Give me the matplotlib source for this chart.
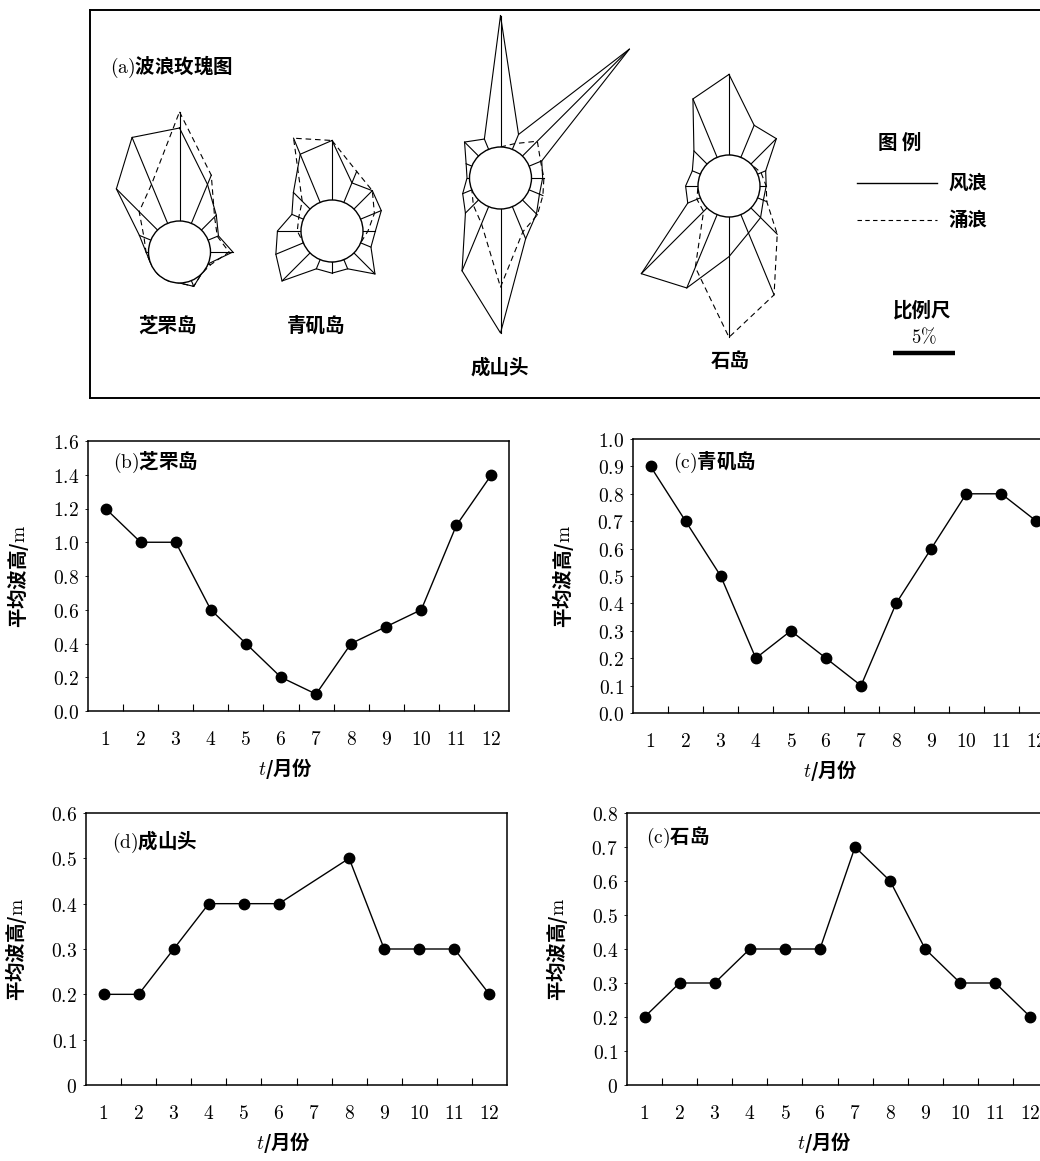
import numpy as np
import matplotlib.pyplot as plt
from matplotlib.patches import Circle

plt.rcParams['mathtext.fontset'] = 'cm'
plt.rcParams['font.family'] = ['Noto Sans CJK SC', 'DejaVu Sans']

W, H = 1040, 1161

# ---- monthly mean wave height (m) ----
months = [1, 2, 3, 4, 5, 6, 7, 8, 9, 10, 11, 12]
month_labels = [str(m) for m in months]
zhifu_h = [1.2, 1.0, 1.0, 0.6, 0.4, 0.2, 0.1, 0.4, 0.5, 0.6, 1.1, 1.4]
qingji_h = [0.9, 0.7, 0.5, 0.2, 0.3, 0.2, 0.1, 0.4, 0.6, 0.8, 0.8, 0.7]
chengshan_months = [1, 2, 3, 4, 5, 6, 8, 9, 10, 11, 12]   # no record for July
chengshan_h = [0.2, 0.2, 0.3, 0.4, 0.4, 0.4, 0.5, 0.3, 0.3, 0.3, 0.2]
shidao_h = [0.2, 0.3, 0.3, 0.4, 0.4, 0.4, 0.7, 0.6, 0.4, 0.3, 0.3, 0.2]

yticks_b = [0.0, 0.2, 0.4, 0.6, 0.8, 1.0, 1.2, 1.4, 1.6]
ylabels_b = ['0.0', '0.2', '0.4', '0.6', '0.8', '1.0', '1.2', '1.4', '1.6']
yticks_c = [0.0, 0.1, 0.2, 0.3, 0.4, 0.5, 0.6, 0.7, 0.8, 0.9, 1.0]
ylabels_c = ['0.0', '0.1', '0.2', '0.3', '0.4', '0.5', '0.6', '0.7', '0.8', '0.9', '1.0']
yticks_d = [0.0, 0.1, 0.2, 0.3, 0.4, 0.5, 0.6]
ylabels_d = ['0', '0.1', '0.2', '0.3', '0.4', '0.5', '0.6']
yticks_e = [0.0, 0.1, 0.2, 0.3, 0.4, 0.5, 0.6, 0.7, 0.8]
ylabels_e = ['0', '0.1', '0.2', '0.3', '0.4', '0.5', '0.6', '0.7', '0.8']

# ---- wave rose frequencies (%), 16 directions clockwise from N ----
directions = ['N', 'NNE', 'NE', 'ENE', 'E', 'ESE', 'SE', 'SSE',
              'S', 'SSW', 'SW', 'WSW', 'W', 'WNW', 'NW', 'NNW']
zhifu_wind = [7.5, 3.4, 1.7, 0.9, 1.8, 0.0, 0.0, 0.5, 0.0, 0.0, 0.0, 0.0, 0.2, 1.0, 4.7, 7.5]
zhifu_swell = [8.8, 4.2, 1.5, 0.8, 1.5, 0.2, 0.0, 0.5, 0.0, 0.0, 0.0, 0.0, 0.2, 0.6, 2.1, 3.4]
qingji_wind = [4.8, 1.7, 2.1, 1.8, 1.0, 0.9, 2.4, 0.8, 0.9, 0.8, 3.2, 2.4, 1.9, 1.0, 1.9, 4.2]
qingji_swell = [4.8, 2.7, 2.1, 1.2, 0.4, 0.0, 0.0, 0.0, 0.0, 0.0, 0.0, 0.0, 0.3, 0.4, 0.9, 5.6]
chengshan_wind = [10.6, 1.3, 12.2, 1.1, 0.9, 0.9, 1.6, 2.8, 10.0, 5.6, 1.5, 0.8, 0.2, 0.5, 1.6, 0.9]
chengshan_swell = [0.0, 0.5, 1.7, 1.0, 1.0, 1.2, 1.7, 2.2, 6.3, 1.5, 0.6, 0.0, 0.0, 0.0, 0.0, 0.0]
shidao_wind = [6.5, 2.8, 2.9, 0.7, 0.5, 0.5, 1.1, 1.6, 3.2, 6.4, 7.5, 1.1, 1.0, 0.7, 1.5, 5.1]
shidao_swell = [0.0, 0.0, 0.0, 0.3, 0.5, 0.8, 3.0, 7.0, 9.7, 4.6, 0.4, 0.3, 0.0, 0.0, 0.0, 0.0]

roses = [
    ('芝罘岛', zhifu_wind, zhifu_swell, (179.5, 252), (167, 326)),
    ('青矶岛', qingji_wind, qingji_swell, (332, 231), (316, 326)),
    ('成山头', chengshan_wind, chengshan_swell, (500.5, 178), (500, 368)),
    ('石岛', shidao_wind, shidao_swell, (729, 186), (730, 361)),
]

R = 31.0      # radius of the calm circle, px
PX = 12.4     # px per 1 % frequency
scale_pct = 5

fig = plt.figure(figsize=(W / 100, H / 100), dpi=100)


def px_axes(left, top, right, bottom):
    return fig.add_axes([left / W, 1 - bottom / H, (right - left) / W, (bottom - top) / H])


def draw_rose(ax, cx, cy, wind, swell):
    theta = np.deg2rad(np.arange(len(directions)) * 22.5)
    sx, sy = np.sin(theta), -np.cos(theta)
    rw = R + np.asarray(wind) * PX
    rs = R + np.asarray(swell) * PX
    xs, ys = cx + rw * sx, cy + rw * sy
    ax.plot(np.append(xs, xs[0]), np.append(ys, ys[0]), color='k', lw=0.8)
    xs, ys = cx + rs * sx, cy + rs * sy
    ax.plot(np.append(xs, xs[0]), np.append(ys, ys[0]), color='k', lw=0.8,
            ls=(0, (5, 3.5)))
    rmax = np.maximum(rw, rs)
    for i in range(len(directions)):
        if rmax[i] > R + 0.5:
            ax.plot([cx + R * sx[i], cx + rmax[i] * sx[i]],
                    [cy + R * sy[i], cy + rmax[i] * sy[i]], color='k', lw=0.8)
    ax.add_patch(Circle((cx, cy), R, fc='white', ec='k', lw=1.0, zorder=5))


# ---- (a) wave roses ----
axa = px_axes(90, 10, 1043, 398)
axa.set_xlim(90, 1043)
axa.set_ylim(398, 10)
axa.set_xticks([])
axa.set_yticks([])
for sp in axa.spines.values():
    sp.set_linewidth(1.4)

axa.text(110, 67, r'$\mathrm{(a)}$波浪玫瑰图', fontsize=14, fontweight='bold',
         va='center', ha='left')
for name, wind, swell, (cx, cy), (lx, ly) in roses:
    draw_rose(axa, cx, cy, wind, swell)
    axa.text(lx, ly, name, fontsize=14, fontweight='bold', ha='center', va='center')

axa.text(900, 143, '图 例', fontsize=14, fontweight='bold', ha='center', va='center')
axa.plot([857, 937], [183, 183], color='k', lw=1.0)
axa.text(948, 183, '风浪', fontsize=14, fontweight='bold', ha='left', va='center')
axa.plot([857, 937], [220, 220], color='k', lw=0.8, ls=(0, (4, 3)))
axa.text(948, 220, '涌浪', fontsize=14, fontweight='bold', ha='left', va='center')
axa.text(922, 311, '比例尺', fontsize=14, fontweight='bold', ha='center', va='center')
axa.text(924, 338, r'$\mathrm{%d\%%}$' % scale_pct, fontsize=13.5, ha='center', va='center')
axa.plot([893, 893 + scale_pct * PX], [353, 353], color='k', lw=3.2, solid_capstyle='butt')

# ---- (b)-(e) monthly mean wave height ----
panels = [
    ((88, 441, 509, 711), months, zhifu_h, 1.6, yticks_b, ylabels_b, '芝罘岛', 'b', (0.06, 0.92)),
    ((633, 439, 1054, 713), months, qingji_h, 1.0, yticks_c, ylabels_c, '青矶岛', 'c', (0.095, 0.915)),
    ((86, 813, 507, 1085), chengshan_months, chengshan_h, 0.6, yticks_d, ylabels_d, '成山头', 'd', (0.062, 0.893)),
    ((627, 813, 1048, 1085), months, shidao_h, 0.8, yticks_e, ylabels_e, '石岛', 'c', (0.045, 0.91)),
]

for (l, t, r, b), xs, ys, ymax, yt, yl, name, tag, (tx, ty) in panels:
    ax = px_axes(l, t, r, b)
    ax.plot(xs, ys, color='k', lw=1.0, marker='o', ms=7.5, mfc='k', mec='k')
    ax.set_xlim(0.5, 12.5)
    ax.set_ylim(0, ymax)
    ax.set_xticks(months, [r'$\mathrm{%s}$' % s for s in month_labels])
    ax.set_xticks(np.arange(1.5, 12.5, 1.0), minor=True)
    ax.tick_params(axis='x', which='major', length=0, pad=13, labelsize=14)
    ax.tick_params(axis='x', which='minor', direction='in', length=5, width=0.8)
    ax.set_yticks(yt, [r'$\mathrm{%s}$' % s for s in yl])
    ax.tick_params(axis='y', length=2.5, width=0.6, pad=4, labelsize=14)
    for sp in ax.spines.values():
        sp.set_linewidth(1.1)
    ax.set_ylabel(r'平均波高/$\mathrm{m}$', fontsize=14, fontweight='bold')
    ax.yaxis.set_label_coords(-0.135, 0.5)
    ax.set_xlabel(r'$t$/月份', fontsize=14, fontweight='bold')
    ax.xaxis.set_label_coords(0.47, -0.165)
    ax.text(tx, ty, r'$\mathrm{(%s)}$' % tag + name, transform=ax.transAxes,
            fontsize=14, fontweight='bold', ha='left', va='center')

fig.savefig('out.png', dpi=100)
